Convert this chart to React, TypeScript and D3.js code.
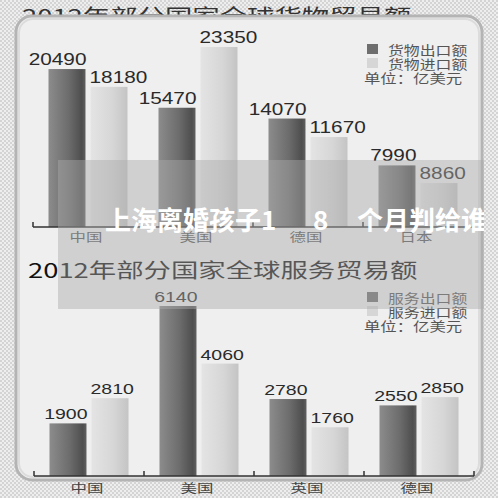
import * as d3 from 'd3';

const goodsCategories = ['中国', '美国', '德国', '日本'];
const goodsExport = [20490, 15470, 14070, 7990];
const goodsImport = [18180, 23350, 11670, 8860];
// the printed Japan import bar is drawn shorter than its label says; heights as seen
const goodsImportBar = [18180, 23350, 11670, 5700];
const goodsLegend = ['货物出口额', '货物进口额'];

const serviceCategories = ['中国', '美国', '英国', '德国'];
const serviceExport = [1900, 6140, 2780, 2550];
const serviceImport = [2810, 4060, 1760, 2850];
const serviceLegend = ['服务出口额', '服务进口额'];

const unitLabel = '单位：亿美元';
const goodsTitle = '2012年部分国家全球货物贸易额';
const serviceTitle = '2012年部分国家全球服务贸易额';
const watermarkParts = ['上海离婚孩子1', '8', '个月判给谁'];

const W = 498;
const H = 498;
const CJK = '"Noto Sans CJK SC", sans-serif';
const NUM = '"Liberation Sans", Arial, sans-serif';

// stretched text: the source picture is widened horizontally
function SText({ x, y, sx = 1, size, anchor = 'start', fill = '#333', family = CJK, weight = 400, children }: any) {
  return (
    <text
      transform={`translate(${x},${y}) scale(${sx},1)`}
      textAnchor={anchor}
      fontSize={size}
      fontFamily={family}
      fontWeight={weight}
      fill={fill}
    >
      {children}
    </text>
  );
}

function BarGroup({
  categories,
  exp,
  imp,
  impBar,
  y,
  range,
  baseline,
  labelY,
  labelFill,
  valueSize,
  legend,
  legendY,
}: {
  categories: string[];
  exp: number[];
  imp: number[];
  impBar: number[];
  y: d3.ScaleLinear<number, number>;
  range: [number, number];
  baseline: number;
  labelY: number;
  labelFill: string;
  valueSize: number;
  legend: string[];
  legendY: number;
}) {
  const x = d3.scaleBand<string>().domain(categories).range(range);
  const sub = d3.scaleBand<string>().domain(['exp', 'imp']).range([-39.5, 39.5]).paddingInner(0.12);
  const bw = sub.bandwidth();
  const ticks = [...categories.map((c) => x(c)!), range[1]];

  return (
    <g>
      {categories.map((c, i) => {
        const cx = x(c)! + x.bandwidth() / 2;
        const ex = cx + sub('exp')!;
        const ix = cx + sub('imp')!;
        return (
          <g key={c}>
            <rect x={ex} y={y(exp[i])} width={bw} height={baseline - y(exp[i])} fill="url(#darkBar)" />
            <rect x={ix} y={y(impBar[i])} width={bw} height={baseline - y(impBar[i])} fill="url(#lightBar)" />
            <SText x={ex + bw + 1} y={y(exp[i]) - 4} sx={1.3} size={valueSize} anchor="end" family={NUM} fill="#2a2a2a">
              {exp[i]}
            </SText>
            <SText x={ix - 1} y={y(impBar[i]) - 4} sx={1.3} size={valueSize} anchor="start" family={NUM} fill="#2a2a2a">
              {imp[i]}
            </SText>
            <SText x={cx - 2} y={labelY} sx={1.37} size={12} anchor="middle" fill={labelFill}>
              {c}
            </SText>
          </g>
        );
      })}
      <path
        d={`M${range[0]},${baseline}H${range[1]}` + ticks.map((t) => `M${t},${baseline}V${baseline - 5}`).join('')}
        stroke="#333"
        strokeWidth={1.5}
        fill="none"
      />
      <rect x={367} y={legendY - 11} width={11} height={10} fill="#6e6e6e" />
      <rect x={367} y={legendY + 3} width={11} height={10} fill="#d6d6d6" />
      <SText x={388} y={legendY} sx={1.22} size={13} fill="#555">{legend[0]}</SText>
      <SText x={388} y={legendY + 14} sx={1.22} size={13} fill="#555">{legend[1]}</SText>
      <SText x={364} y={legendY + 28} sx={1.26} size={13} fill="#555">{unitLabel}</SText>
    </g>
  );
}

export default function App() {
  const yGoods = d3.scaleLinear().domain([0, d3.max(goodsImport)!]).range([227, 47]);
  const yService = d3.scaleLinear().domain([0, d3.max(serviceExport)!]).range([476, 306]);

  return (
    <svg width={W} height={H} style={{ position: 'absolute', left: 0, top: 0 }}>
      <defs>
        <pattern id="checker" width={4} height={4} patternUnits="userSpaceOnUse">
          <rect width={4} height={4} fill="#eeeeee" />
          <rect width={2} height={2} fill="#d4d4d4" />
          <rect x={2} y={2} width={2} height={2} fill="#d4d4d4" />
        </pattern>
        <linearGradient id="darkBar" x1="0" x2="1" y1="0" y2="0">
          <stop offset="0" stopColor="#8c8c8c" />
          <stop offset="0.55" stopColor="#6c6c6c" />
          <stop offset="0.9" stopColor="#4e4e4e" />
          <stop offset="1" stopColor="#606060" />
        </linearGradient>
        <linearGradient id="lightBar" x1="0" x2="1" y1="0" y2="0">
          <stop offset="0" stopColor="#e4e4e4" />
          <stop offset="0.6" stopColor="#d6d6d6" />
          <stop offset="1" stopColor="#c4c4c4" />
        </linearGradient>
        <clipPath id="boxClip">
          <rect x={58} y={160} width={426} height={149} />
        </clipPath>
      </defs>

      <rect width={W} height={H} fill="url(#checker)" />

      <SText x={22} y={24} sx={1.37} size={20} fill="#333">{goodsTitle}</SText>

      <rect x={16} y={16} width={466} height={464} rx={16} fill="#efefef" stroke="#b4b4b4" strokeWidth={3} />
      <rect x={19} y={19} width={460} height={458} rx={14} fill="none" stroke="#dcdcdc" strokeWidth={2} />

      <BarGroup
        categories={goodsCategories}
        exp={goodsExport}
        imp={goodsImport}
        impBar={goodsImportBar}
        y={yGoods}
        range={[33, 473]}
        baseline={227}
        labelY={242}
        labelFill="#555"
        valueSize={16}
        legend={goodsLegend}
        legendY={55}
      />

      <SText x={28} y={278} sx={1.37} size={20} fill="#111">{serviceTitle}</SText>

      <BarGroup
        categories={serviceCategories}
        exp={serviceExport}
        imp={serviceImport}
        impBar={serviceImport}
        y={yService}
        range={[34, 474]}
        baseline={476}
        labelY={493}
        labelFill="#444"
        valueSize={15}
        legend={serviceLegend}
        legendY={303}
      />

      <rect x={58} y={160} width={426} height={149} fill="rgba(170,170,170,0.45)" />

      <g clipPath="url(#boxClip)">
        <text y={230} fontSize={26} fontFamily={CJK} fontWeight={700} fill="#ffffff">
          <tspan x={105}>{watermarkParts[0]}</tspan>
          <tspan x={313}>{watermarkParts[1]}</tspan>
          <tspan x={357}>{watermarkParts[2]}</tspan>
        </text>
      </g>
    </svg>
  );
}
